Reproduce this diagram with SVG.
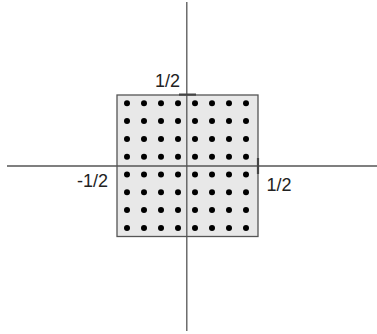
<svg xmlns="http://www.w3.org/2000/svg" width="377" height="334" viewBox="0 0 377 334">
<defs>
<style>
.ax{stroke:#555;stroke-width:1.3;fill:none}
.tk{stroke:#444;stroke-width:2.2;fill:none}
.lb{font-family:"Liberation Sans",Arial,sans-serif;font-size:18px;fill:#222}
.d{fill:#000}
</style>
<circle id="dot" r="3" class="d"/>
</defs>
<rect width="377" height="334" fill="#fff"/>
<g id="square">
<rect x="117" y="95" width="141" height="141.5" fill="#e8e8e8" stroke="#555" stroke-width="1.3"/>
</g>
<g id="dots">
<g id="row0">
<use href="#dot" x="127" y="103.3"/><use href="#dot" x="144" y="103.3"/><use href="#dot" x="161" y="103.3"/><use href="#dot" x="178" y="103.3"/><use href="#dot" x="195" y="103.3"/><use href="#dot" x="212" y="103.3"/><use href="#dot" x="229" y="103.3"/><use href="#dot" x="246" y="103.3"/>
</g>
<g id="row1">
<use href="#dot" x="127" y="121.1"/><use href="#dot" x="144" y="121.1"/><use href="#dot" x="161" y="121.1"/><use href="#dot" x="178" y="121.1"/><use href="#dot" x="195" y="121.1"/><use href="#dot" x="212" y="121.1"/><use href="#dot" x="229" y="121.1"/><use href="#dot" x="246" y="121.1"/>
</g>
<g id="row2">
<use href="#dot" x="127" y="138.9"/><use href="#dot" x="144" y="138.9"/><use href="#dot" x="161" y="138.9"/><use href="#dot" x="178" y="138.9"/><use href="#dot" x="195" y="138.9"/><use href="#dot" x="212" y="138.9"/><use href="#dot" x="229" y="138.9"/><use href="#dot" x="246" y="138.9"/>
</g>
<g id="row3">
<use href="#dot" x="127" y="156.7"/><use href="#dot" x="144" y="156.7"/><use href="#dot" x="161" y="156.7"/><use href="#dot" x="178" y="156.7"/><use href="#dot" x="195" y="156.7"/><use href="#dot" x="212" y="156.7"/><use href="#dot" x="229" y="156.7"/><use href="#dot" x="246" y="156.7"/>
</g>
<g id="row4">
<use href="#dot" x="127" y="174.5"/><use href="#dot" x="144" y="174.5"/><use href="#dot" x="161" y="174.5"/><use href="#dot" x="178" y="174.5"/><use href="#dot" x="195" y="174.5"/><use href="#dot" x="212" y="174.5"/><use href="#dot" x="229" y="174.5"/><use href="#dot" x="246" y="174.5"/>
</g>
<g id="row5">
<use href="#dot" x="127" y="192.3"/><use href="#dot" x="144" y="192.3"/><use href="#dot" x="161" y="192.3"/><use href="#dot" x="178" y="192.3"/><use href="#dot" x="195" y="192.3"/><use href="#dot" x="212" y="192.3"/><use href="#dot" x="229" y="192.3"/><use href="#dot" x="246" y="192.3"/>
</g>
<g id="row6">
<use href="#dot" x="127" y="210.1"/><use href="#dot" x="144" y="210.1"/><use href="#dot" x="161" y="210.1"/><use href="#dot" x="178" y="210.1"/><use href="#dot" x="195" y="210.1"/><use href="#dot" x="212" y="210.1"/><use href="#dot" x="229" y="210.1"/><use href="#dot" x="246" y="210.1"/>
</g>
<g id="row7">
<use href="#dot" x="127" y="227.9"/><use href="#dot" x="144" y="227.9"/><use href="#dot" x="161" y="227.9"/><use href="#dot" x="178" y="227.9"/><use href="#dot" x="195" y="227.9"/><use href="#dot" x="212" y="227.9"/><use href="#dot" x="229" y="227.9"/><use href="#dot" x="246" y="227.9"/>
</g>
</g>
<g id="axes">
<line class="ax" x1="7" y1="166" x2="377" y2="166"/>
<line class="ax" x1="186.8" y1="2" x2="186.8" y2="331"/>
</g>
<g id="ticks">
<line class="tk" x1="179" y1="94.6" x2="196" y2="94.6"/>
<line class="tk" x1="258" y1="158" x2="258" y2="174"/>
</g>
<g id="labels">
<text class="lb" x="155" y="86.5">1/2</text>
<text class="lb" x="77" y="186.5">-1/2</text>
<text class="lb" x="266.5" y="190.5">1/2</text>
</g>
</svg>
